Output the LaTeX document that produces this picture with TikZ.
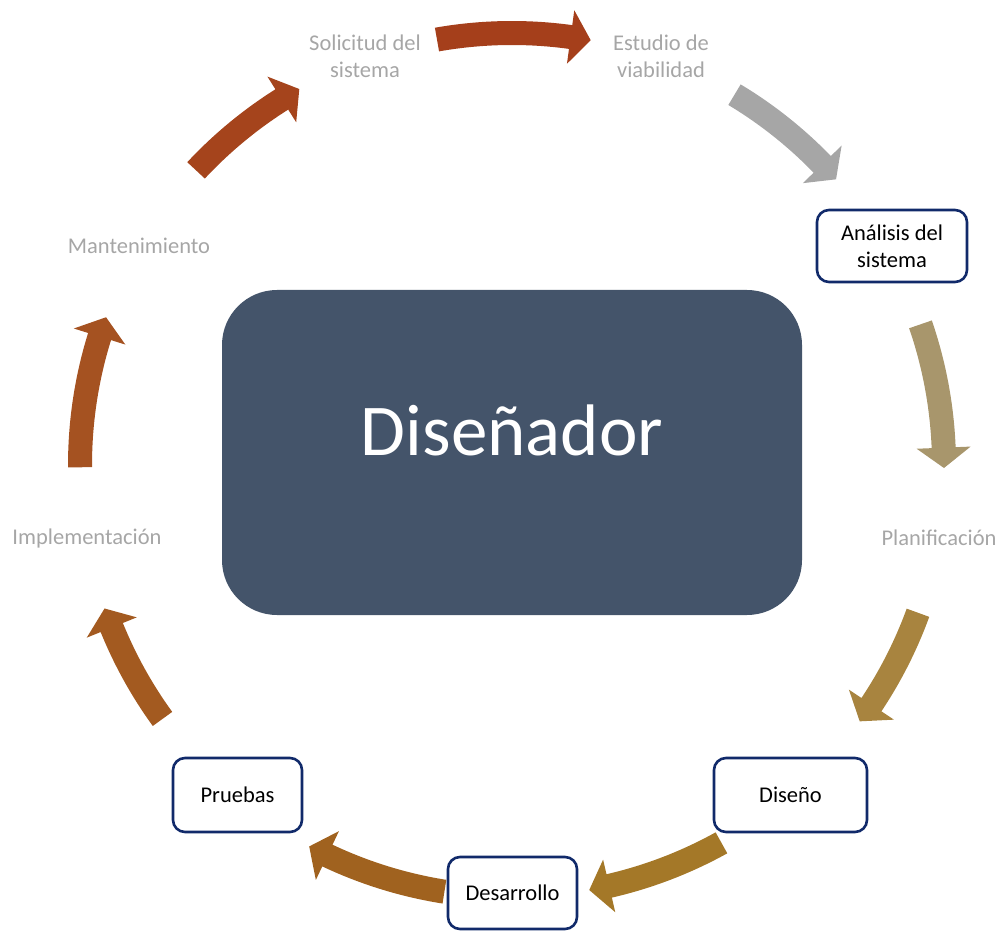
\documentclass[tikz,border=0pt]{standalone}
\usepackage{fontspec}
\setmainfont{Carlito}
\definecolor{centrefill}{HTML}{44546A}
\definecolor{boxline}{HTML}{112A6A}
\definecolor{labelgray}{HTML}{A6A6A6}
\definecolor{arA}{HTML}{A5441C}
\definecolor{arB}{HTML}{A53F1B}
\definecolor{arC}{HTML}{A6A6A6}
\definecolor{arD}{HTML}{A8966C}
\definecolor{arE}{HTML}{A8843F}
\definecolor{arF}{HTML}{A47828}
\definecolor{arG}{HTML}{A0621F}
\definecolor{arH}{HTML}{A35A20}
\definecolor{arI}{HTML}{A55221}
\def\rMid{432}
\def\rOut{444}
\def\rIn{420}
\def\rHo{459}
\def\rHi{405}
\newcommand{\cyclearrow}[4]{%
  \fill[#4] (#1:\rOut) arc[start angle=#1, end angle=#2, radius=\rOut]
    -- (#2:\rHo) -- (#3:\rMid) -- (#2:\rHi) -- (#2:\rIn)
    arc[start angle=#2, end angle=#1, radius=\rIn] -- cycle;}
\tikzset{
  stage/.style={font=\fontsize{22.5}{27}\selectfont, text=labelgray, align=center},
  stagebox/.style={font=\fontsize{22.5}{27}\selectfont, text=black, align=center,
    draw=boxline, line width=2.6pt, fill=white, rounded corners=12pt, inner sep=0pt},
}
\begin{document}
\begin{tikzpicture}[x=1pt,y=1pt]
\useasboundingbox (0,0) rectangle (1000,930);
\coordinate (c) at (512,465);
\node[fill=centrefill, rounded corners=55pt, minimum width=580pt, minimum height=325pt] (designer) at (512,477.5) {};
\node[text=white, font=\fontsize{73}{80}\selectfont] (designertext) at (512,500) {Diseñador};
% labels
\node[stage] (sol) at (365,874) {Solicitud del\\sistema};
\node[stage] (est) at (661,874) {Estudio de\\viabilidad};
\node[stagebox, minimum width=150pt, minimum height=72pt] (ana) at (892,684) {Análisis del\\sistema};
\node[stage] (pla) at (939,392) {Planificación};
\node[stagebox, minimum width=153pt, minimum height=74pt] (dis) at (790.5,135) {Diseño};
\node[stagebox, minimum width=129pt, minimum height=72pt] (des) at (512.5,37) {Desarrollo};
\node[stagebox, minimum width=129pt, minimum height=74pt] (pru) at (237.5,135) {Pruebas};
\node[stage] (imp) at (87,392) {Implementación};
\node[stage] (man) at (139,684) {Mantenimiento};
% arrows
\begin{scope}[shift={(c)}]
\cyclearrow{137}{122.2}{119.5}{arA}
\cyclearrow{100}{82.2}{79.5}{arB}
\cyclearrow{59}{44.1}{41.4}{arC}
\cyclearrow{19}{2.3}{-0.4}{arD}
\cyclearrow{-20}{-33.7}{-36.4}{arE}
\cyclearrow{-61}{-77}{-79.7}{arF}
\cyclearrow{-99}{-115.3}{-118}{arG}
\cyclearrow{216}{202.1}{199.4}{arH}
\cyclearrow{180.3}{162.7}{160}{arI}
\end{scope}
\end{tikzpicture}
\end{document}
